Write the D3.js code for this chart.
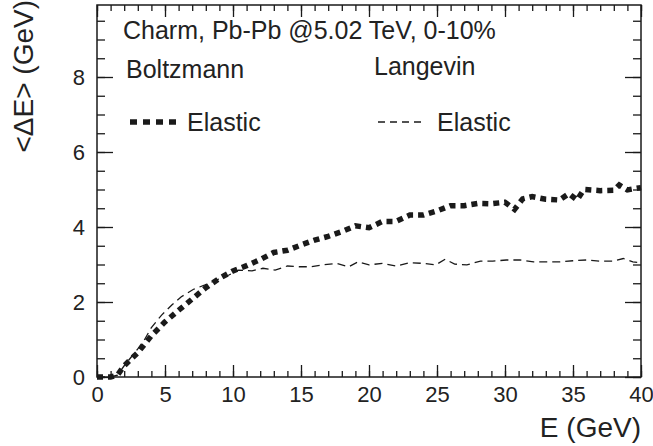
<!DOCTYPE html>
<html>
<head>
<meta charset="utf-8">
<script src="https://cdn.jsdelivr.net/npm/d3@7"></script>
<style>
  body { margin: 0; background: #fff; overflow: hidden; }
  text { font-family: "Liberation Sans", Arial, sans-serif; fill: #222; }
</style>
</head>
<body>
<div id="chart"></div>
<script>
// Boltzmann elastic (thick dotted)
const boltzE = [0, 0.5, 1, 1.5, 2, 3, 4, 5, 6, 7, 8, 9, 10, 11, 12, 13, 14, 15, 16, 17, 18, 19, 20, 21, 22, 23, 24, 25, 26, 27, 28, 29, 30, 30.7, 31.3, 32, 33, 34, 34.7, 35.3, 35.8, 37, 38, 38.4, 39, 40];
const boltzVal = [0, 0, 0, 0.05, 0.3, 0.65, 1.1, 1.47, 1.78, 2.08, 2.38, 2.63, 2.83, 2.97, 3.13, 3.32, 3.38, 3.52, 3.65, 3.75, 3.88, 4.03, 3.98, 4.15, 4.15, 4.32, 4.32, 4.43, 4.57, 4.57, 4.63, 4.62, 4.66, 4.47, 4.75, 4.81, 4.74, 4.72, 4.89, 4.72, 5.0, 4.97, 4.98, 5.12, 4.99, 5.05];

// Langevin elastic (thin dashed)
const langE = [0, 0.5, 1, 1.5, 2, 3, 3.5, 4, 4.75, 5.5, 6.2, 7.1, 7.9, 8.8, 9.7, 10.4, 11.4, 12.2, 13.1, 14, 14.8, 15.7, 16.6, 17.6, 18.5, 19.2, 20, 21, 22, 23, 24, 24.9, 25.6, 26.3, 27.2, 28.2, 29.1, 30.1, 31.1, 32.1, 33.1, 34, 35, 36, 37, 38, 38.7, 39.4, 40];
const langVal = [0, 0, 0, 0.05, 0.3, 0.75, 1.0, 1.32, 1.65, 1.92, 2.14, 2.34, 2.45, 2.59, 2.72, 2.85, 2.83, 2.9, 2.85, 2.96, 2.94, 2.94, 2.99, 3.03, 2.94, 3.07, 2.99, 3.03, 2.96, 3.05, 3.03, 2.99, 3.14, 3.01, 2.99, 3.09, 3.09, 3.12, 3.12, 3.07, 3.07, 3.07, 3.1, 3.12, 3.09, 3.09, 3.16, 3.07, 3.05];

const xTicks = [0, 5, 10, 15, 20, 25, 30, 35, 40];
const yTicks = [0, 2, 4, 6, 8];

const width = 653, height = 446;
const margin = { top: 5, right: 12, bottom: 69, left: 97 };
const iw = width - margin.left - margin.right;
const ih = height - margin.top - margin.bottom;

const svg = d3.select("#chart").append("svg")
  .attr("width", width)
  .attr("height", height);

const g = svg.append("g")
  .attr("transform", `translate(${margin.left},${margin.top})`);

const x = d3.scaleLinear().domain([0, 40]).range([0, iw]);
const y = d3.scaleLinear().domain([0, 9.92]).range([ih, 0]);

const ink = "#1a1a1a";
const tickFont = "22px";
const labelFont = "25px";
const titleFont = "28px";

// minor ticks
const xMinor = d3.range(0, 40.01, 1);
const yMinor = d3.range(0, 9.9, 0.5);

function styleAxis(sel) {
  sel.select(".domain").remove();
  sel.selectAll("line").attr("stroke", ink).attr("stroke-width", 1.3);
  sel.selectAll("text").attr("font-size", tickFont).attr("fill", "#222")
    .attr("font-family", '"Liberation Sans", Arial, sans-serif');
}

// bottom
g.append("g").attr("transform", `translate(0,${ih})`)
  .call(d3.axisBottom(x).tickValues(xMinor).tickSize(-6).tickFormat(""))
  .call(styleAxis);
g.append("g").attr("transform", `translate(0,${ih})`)
  .call(d3.axisBottom(x).tickValues(xTicks).tickSize(-12).tickPadding(9).tickFormat(d3.format("d")))
  .call(styleAxis);

// top
g.append("g")
  .call(d3.axisTop(x).tickValues(xMinor).tickSize(-6).tickFormat(""))
  .call(styleAxis);
g.append("g")
  .call(d3.axisTop(x).tickValues(xTicks).tickSize(-12).tickFormat(""))
  .call(styleAxis);

// left
g.append("g")
  .call(d3.axisLeft(y).tickValues(yMinor).tickSize(-8).tickFormat(""))
  .call(styleAxis);
g.append("g")
  .call(d3.axisLeft(y).tickValues(yTicks).tickSize(-16).tickPadding(12).tickFormat(d3.format("d")))
  .call(styleAxis);

// right
g.append("g").attr("transform", `translate(${iw},0)`)
  .call(d3.axisRight(y).tickValues(yMinor).tickSize(-8).tickFormat(""))
  .call(styleAxis);
g.append("g").attr("transform", `translate(${iw},0)`)
  .call(d3.axisRight(y).tickValues(yTicks).tickSize(-16).tickFormat(""))
  .call(styleAxis);

// frame
g.append("rect")
  .attr("width", iw).attr("height", ih)
  .attr("fill", "none").attr("stroke", ink).attr("stroke-width", 1.5);

const line = d3.line()
  .x(d => x(d[0]))
  .y(d => y(d[1]));

g.append("path")
  .datum(langE.map((e, i) => [e, langVal[i]]))
  .attr("d", line)
  .attr("fill", "none")
  .attr("stroke", ink)
  .attr("stroke-width", 1.3)
  .attr("stroke-dasharray", "8,5");

g.append("path")
  .datum(boltzE.map((e, i) => [e, boltzVal[i]]))
  .attr("d", line)
  .attr("fill", "none")
  .attr("stroke", ink)
  .attr("stroke-width", 5.5)
  .attr("stroke-dasharray", "6,5");

// labels
svg.append("text")
  .attr("x", 123).attr("y", 39)
  .attr("font-size", labelFont)
  .text("Charm, Pb-Pb @5.02 TeV, 0-10%");

svg.append("text")
  .attr("x", 126).attr("y", 78)
  .attr("font-size", labelFont)
  .text("Boltzmann");

svg.append("text")
  .attr("x", 374).attr("y", 75)
  .attr("font-size", labelFont)
  .text("Langevin");

// legend
svg.append("line")
  .attr("x1", 130).attr("x2", 178).attr("y1", 122).attr("y2", 122)
  .attr("stroke", ink).attr("stroke-width", 5.5).attr("stroke-dasharray", "7,6");
svg.append("text")
  .attr("x", 187).attr("y", 131)
  .attr("font-size", labelFont)
  .text("Elastic");

svg.append("line")
  .attr("x1", 378).attr("x2", 423).attr("y1", 122).attr("y2", 122)
  .attr("stroke", ink).attr("stroke-width", 1.3).attr("stroke-dasharray", "7,5");
svg.append("text")
  .attr("x", 437).attr("y", 131)
  .attr("font-size", labelFont)
  .text("Elastic");

// axis titles
svg.append("text")
  .attr("x", 641).attr("y", 437)
  .attr("text-anchor", "end")
  .attr("font-size", titleFont)
  .text("E (GeV)");

svg.append("text")
  .attr("transform", "translate(33,0) rotate(-90)")
  .attr("text-anchor", "end")
  .attr("font-size", titleFont)
  .text("<ΔE> (GeV)");
</script>
</body>
</html>
